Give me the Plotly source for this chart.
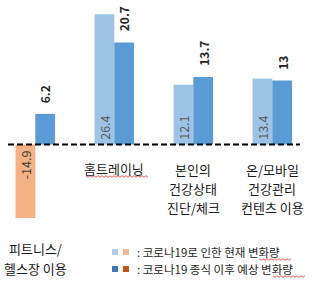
import plotly.graph_objects as go

categories = ["피트니스/헬스장 이용", "홈트레이닝", "본인의 건강상태 진단/체크", "온/모바일 건강관리 컨텐츠 이용"]
category_lines = [["피트니스/", "헬스장 이용"], ["홈트레이닝"], ["본인의", "건강상태", "진단/체크"],
                  ["온/모바일", "건강관리", "컨텐츠 이용"]]
current_change = [-14.9, 26.4, 12.1, 13.4]
after_change = [6.2, 20.7, 13.7, 13.0]
current_label = ["-14.9", "26.4", "12.1", "13.4"]
after_label = ["6.2", "20.7", "13.7", "13"]
legend_texts = [": 코로나19로 인한 현재 변화량", ": 코로나19 종식 이후 예상 변화량"]

W, H = 316, 290
LIGHT_BLUE = "#9DC3E6"
DARK_BLUE = "#5B9BD5"
LIGHT_ORANGE = "#F4B183"
FONT = "Noto Sans CJK KR"

x_idx = list(range(len(categories)))
cur_colors = [LIGHT_ORANGE if v < 0 else LIGHT_BLUE for v in current_change]

fig = go.Figure()
fig.add_trace(go.Bar(x=x_idx, y=current_change, marker=dict(color=cur_colors, line=dict(width=0)),
                     name="코로나19로 인한 현재 변화량", hoverinfo="skip"))
fig.add_trace(go.Bar(x=x_idx, y=after_change, marker=dict(color=DARK_BLUE, line=dict(width=0)),
                     name="코로나19 종식 이후 예상 변화량", hoverinfo="skip"))

zero_px = 144.5
scale = 4.93
ymax = zero_px / scale
ymin = -(H - zero_px) / scale

ann = []
for i, (v, t) in enumerate(zip(current_change, current_label)):
    if v >= 0:
        ann.append(dict(x=i, y=0, xref="x", yref="y", text=t, textangle=-90, showarrow=False,
                        xanchor="center", yanchor="bottom", xshift=-10, yshift=3,
                        font=dict(family=FONT, size=12.5, color="#595959")))
    else:
        ann.append(dict(x=i, y=0, xref="x", yref="y", text=t, textangle=-90, showarrow=False,
                        xanchor="center", yanchor="top", xshift=-10, yshift=-4,
                        font=dict(family=FONT, size=12.5, color="#404040")))
for i, (v, t) in enumerate(zip(after_change, after_label)):
    ann.append(dict(x=i, y=v, xref="x", yref="y", text="<b>" + t + "</b>", textangle=-90, showarrow=False,
                    xanchor="center", yanchor="bottom", xshift=10, yshift=9,
                    font=dict(family=FONT, size=12, color="#262626")))

cat_line_px = [[248, 268], [168], [169, 188, 207], [169, 188, 207]]
for i, (lines, ys) in enumerate(zip(category_lines, cat_line_px)):
    for line, yp in zip(lines, ys):
        ann.append(dict(x=i, y=1 - yp / H, xref="x", yref="paper", text=line, showarrow=False,
                        xanchor="center", yanchor="middle", borderpad=0,
                        font=dict(family=FONT, size=13, color="#1a1a1a")))

leg_y_px = [252, 269]
for t, yp in zip(legend_texts, leg_y_px):
    ann.append(dict(x=136 / W, y=1 - yp / H, xref="paper", yref="paper", text=t, showarrow=False,
                    xanchor="left", yanchor="middle", borderpad=0,
                    font=dict(family=FONT, size=11.5, color="#262626")))

shapes = [dict(type="line", xref="paper", yref="y", x0=8 / W, x1=300 / W, y0=0, y1=0,
               line=dict(color="black", width=2, dash="6px,3px"))]
sq_colors = [["#B4CDE3", "#F1B99A"], ["#3F7AB5", "#C0561C"]]
for row, yp in enumerate(leg_y_px):
    for j, xp in enumerate([112, 123]):
        shapes.append(dict(type="rect", xref="paper", yref="paper",
                           x0=xp / W, x1=(xp + 6) / W, y0=1 - (yp + 3) / H, y1=1 - (yp - 3) / H,
                           fillcolor=sq_colors[row][j], line=dict(width=0)))


# red wavy spell-check underlines (decorative)
def wavy(x0, x1, y):
    pts = []
    x = x0
    k = 0
    while x <= x1:
        yy = y + (0.8 if k % 2 else -0.8)
        pts.append((x / W, 1 - yy / H))
        x += 2
        k += 1
    return "M " + " L ".join(f"{a:.5f},{b:.5f}" for a, b in pts)


for (x0, x1, y) in [(86, 148, 176.5), (259, 292, 259.5), (273, 306, 276.5)]:
    shapes.append(dict(type="path", xref="paper", yref="paper", path=wavy(x0, x1, y),
                       line=dict(color="#E03030", width=0.8)))

fig.update_layout(
    width=W, height=H, margin=dict(l=0, r=0, t=0, b=0),
    paper_bgcolor="white", plot_bgcolor="white",
    barmode="group", bargap=0.5, bargroupgap=0,
    showlegend=False,
    xaxis=dict(range=[-0.447, 3.553], visible=False, fixedrange=True),
    yaxis=dict(range=[ymin, ymax], visible=False, fixedrange=True),
    annotations=ann, shapes=shapes,
)

fig.write_html("out.html")
